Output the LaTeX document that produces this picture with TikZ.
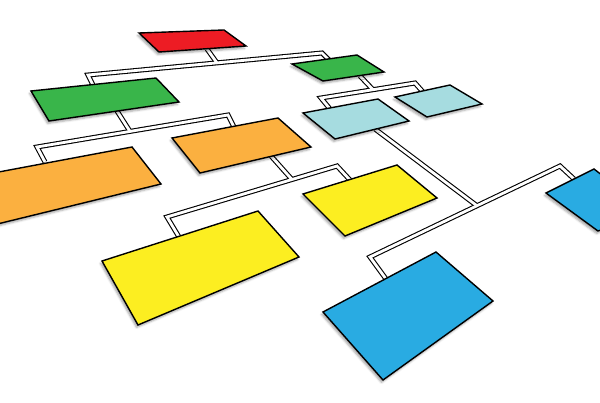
\documentclass[tikz,border=0pt]{standalone}
\usetikzlibrary{%
  calc,%
  shadows.blur%
}
\tikzset{>=latex}
\definecolor{boxred}{HTML}{ED1C24}
\definecolor{boxgreen}{HTML}{39B54A}
\definecolor{boxorange}{HTML}{FBB040}
\definecolor{boxcyan}{HTML}{A6DCE0}
\definecolor{boxyellow}{HTML}{FCEE21}
\definecolor{boxblue}{HTML}{29ABE2}
\tikzset{
  box/.style={draw=black,line width=1.4pt,line join=miter,
    blur shadow={shadow xshift=-1.5pt,shadow yshift=-2.5pt,
      shadow blur radius=2pt,shadow opacity=35}}
}

\begin{document}
\begin{tikzpicture}[x=1pt,y=-1pt]
    \useasboundingbox (0,0) rectangle (600,403);
    \clip (0,0) rectangle (600,403);
    % where the wires meet the boxes
    \coordinate (redB) at (207,49);
    \coordinate (bus1L) at (88,75);
    \coordinate (bus1R) at (322,53);
    \coordinate (j1) at ($(bus1L)!.551!(bus1R)$);
    \coordinate (glT) at (93,85);
    \coordinate (grT) at (329,60);
    \coordinate (glB) at (117,111);
    \coordinate (bus2L) at (37,147);
    \coordinate (bus2R) at (228,115);
    \coordinate (j2) at ($(bus2L)!.487!(bus2R)$);
    \coordinate (olT) at (45,162);
    \coordinate (omT) at (234,127);
    \coordinate (grB) at (360,76);
    \coordinate (bus3L) at (321,98);
    \coordinate (bus3R) at (415,83);
    \coordinate (j3) at ($(bus3L)!.553!(bus3R)$);
    \coordinate (clT) at (330,109);
    \coordinate (crT) at (423,92);
    \coordinate (omB) at (271,156);
    \coordinate (bus5L) at (167,217);
    \coordinate (bus5R) at (337,166);
    \coordinate (j5) at ($(bus5L)!.735!(bus5R)$);
    \coordinate (ylT) at (179,237);
    \coordinate (yrT) at (350,180);
    \coordinate (clB) at (375,129);
    \coordinate (bus4L) at (370,257);
    \coordinate (bus4R) at (560,166);
    \coordinate (j4) at ($(bus4L)!.563!(bus4R)$);
    \coordinate (blT) at (386,279);
    \coordinate (brT) at (574,179);
    % wires: black first, white on top
    \foreach \w/\c in {5pt/black,2.8pt/white}{
      \draw[line width=\w,color=\c] (glT) -- (bus1L) -- (bus1R) -- (grT);
      \draw[line width=\w,color=\c] (redB) -- (j1);
      \draw[line width=\w,color=\c] (olT) -- (bus2L) -- (bus2R) -- (omT);
      \draw[line width=\w,color=\c] (glB) -- (j2);
      \draw[line width=\w,color=\c] (clT) -- (bus3L) -- (bus3R) -- (crT);
      \draw[line width=\w,color=\c] (grB) -- (j3);
      \draw[line width=\w,color=\c] (ylT) -- (bus5L) -- (bus5R) -- (yrT);
      \draw[line width=\w,color=\c] (omB) -- (j5);
      \draw[line width=\w,color=\c] (blT) -- (bus4L) -- (bus4R) -- (brT);
      \draw[line width=\w,color=\c] (clB) -- (j4);
    }
    % boxes
    \draw[box,fill=boxred] (139,33) -- (224,30) -- (246,46) -- (159,52) -- cycle;
    \draw[box,fill=boxgreen] (31,91) -- (156,78) -- (179,102) -- (49,121) -- cycle;
    \draw[box,fill=boxgreen] (292,64) -- (357,55) -- (384,72) -- (323,81) -- cycle;
    \draw[box,fill=boxorange] (-60,183) -- (132,147) -- (161,184) -- (-60,238) -- cycle;
    \draw[box,fill=boxorange] (172,138) -- (278,118) -- (311,147) -- (200,173) -- cycle;
    \draw[box,fill=boxcyan] (303,113) -- (378,99) -- (409,121) -- (335,139) -- cycle;
    \draw[box,fill=boxcyan] (395,97) -- (450,85) -- (482,104) -- (427,117) -- cycle;
    \draw[box,fill=boxyellow] (102,261) -- (258,211) -- (299,257) -- (138,325) -- cycle;
    \draw[box,fill=boxyellow] (303,194) -- (397,165) -- (437,198) -- (345,236) -- cycle;
    \draw[box,fill=boxblue] (323,312) -- (436,252) -- (493,301) -- (383,380) -- cycle;
    \draw[box,fill=boxblue] (546,193) -- (594,169) -- (650,212) -- (598,231) -- cycle;
\end{tikzpicture}
\end{document}
